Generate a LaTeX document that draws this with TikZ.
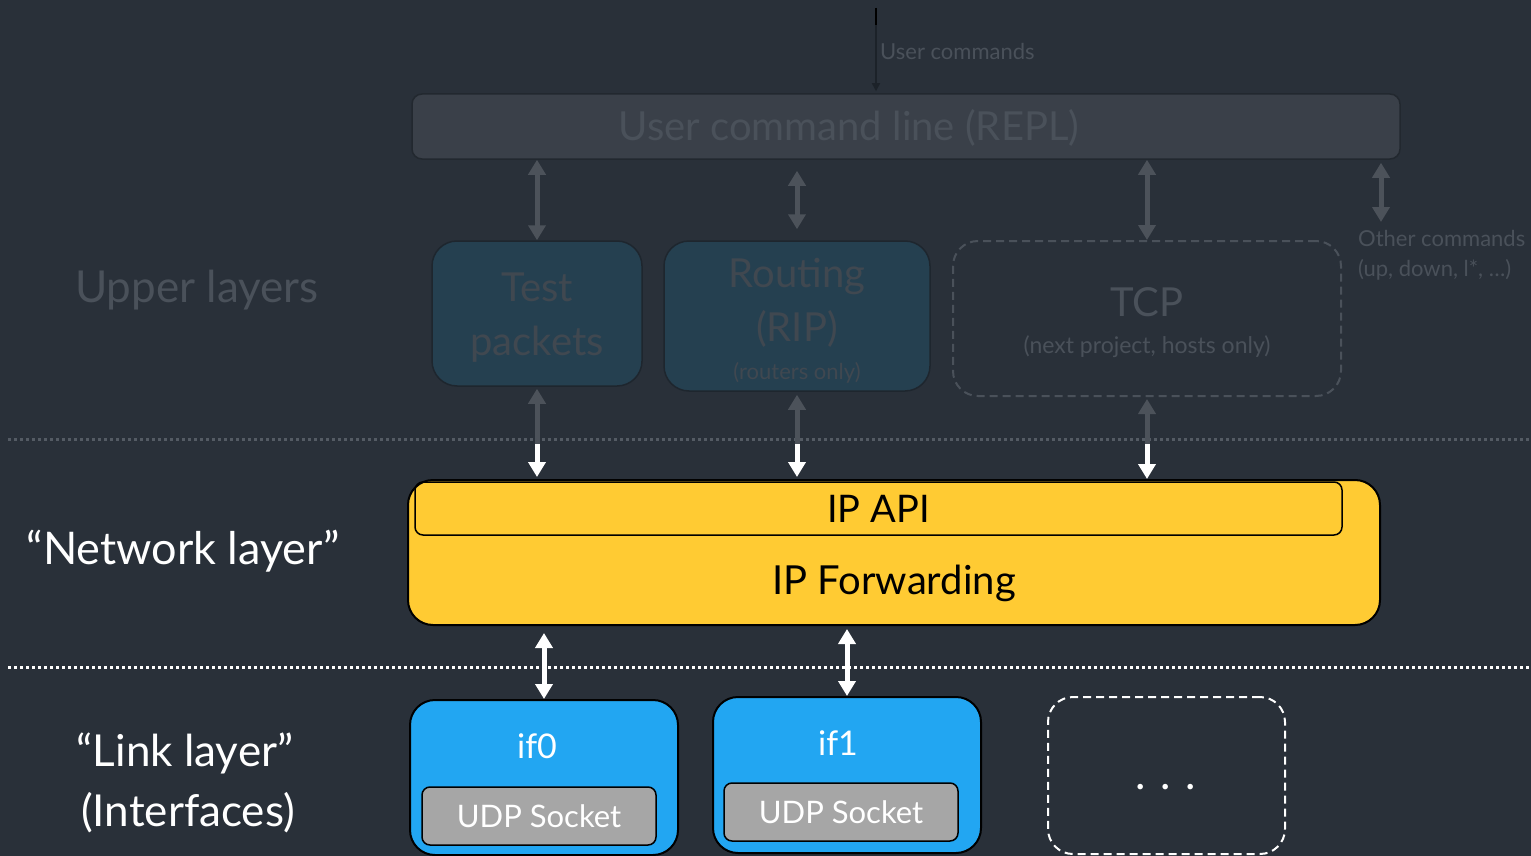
\documentclass[tikz,border=0pt]{standalone}
\usepackage{fontspec}
\setmainfont{Lato}
\usetikzlibrary{arrows.meta}

\definecolor{bg}{RGB}{41,48,57}
\definecolor{replfill}{RGB}{58,64,73}
\definecolor{repledge}{RGB}{34,40,47}
\definecolor{fainttext}{RGB}{74,81,90}
\definecolor{appfill}{RGB}{37,64,80}
\definecolor{appedge}{RGB}{30,38,46}
\definecolor{apptext}{RGB}{64,72,80}
\definecolor{fadegray}{RGB}{76,82,90}
\definecolor{dotgray}{RGB}{84,91,100}
\definecolor{cmdline}{RGB}{28,34,41}
\definecolor{ipyellow}{RGB}{255,203,51}
\definecolor{ifblue}{RGB}{34,166,242}
\definecolor{udpgray}{RGB}{166,166,166}

\newcommand{\fs}[1]{\fontsize{#1}{1.2\dimexpr#1pt\relax}\selectfont}

\tikzset{
  replbox/.style={draw=repledge, line width=1.5pt, fill=replfill, rounded corners=10pt, inner sep=0pt},
  appbox/.style={draw=appedge, line width=1.5pt, fill=appfill, rounded corners=25pt, inner sep=0pt},
  futurebox/.style={draw=fainttext, line width=2pt, dash pattern=on 8pt off 5pt, rounded corners=25pt, inner sep=0pt},
  ipbox/.style={draw=black, line width=2pt, fill=ipyellow, rounded corners=25pt, inner sep=0pt},
  apibox/.style={draw=black, line width=1.5pt, rounded corners=8pt, inner sep=0pt},
  ifbox/.style={draw=black, line width=2pt, fill=ifblue, rounded corners=25pt, inner sep=0pt},
  udpbox/.style={draw=black, line width=1.5pt, fill=udpgray, rounded corners=8pt, inner sep=0pt, text=white},
  morebox/.style={draw=white, line width=2pt, dash pattern=on 8pt off 5pt, rounded corners=25pt, inner sep=0pt},
  txt/.style={inner sep=0pt, anchor=base},
  tipA/.tip={Triangle[width=17pt,length=15pt]},
  fadearrow/.style={draw=fadegray, line width=5pt, tipA-tipA},
  fadeup/.style={draw=fadegray, line width=5pt, tipA-},
  whitedown/.style={draw=white, line width=5pt, -tipA},
  whitearrow/.style={draw=white, line width=5pt, tipA-tipA},
  cmdarrow/.style={draw=cmdline, line width=1.5pt, -{Triangle[width=8pt,length=8pt]}},
  dotline/.style={line width=3pt, dash pattern=on 3pt off 3pt},
}

\begin{document}
\begin{tikzpicture}[x=1pt,y=-1pt]
  \fill[bg] (0,0) rectangle (1531,856);
  \useasboundingbox (0,0) rectangle (1531,856);

  % layer separators
  \draw[dotline, dotgray] (8,439) -- (1531,439);
  \draw[dotline, white] (8,667) -- (1531,667);

  % layer labels
  \node[txt, text=fainttext, font=\fs{44}] (lupper) at (197,302) {Upper layers};
  \node[txt, text=white, font=\fs{45}] (lnet) at (183,564) {“Network layer”};
  \node[txt, text=white, font=\fs{44}] (llink) at (185,766) {“Link layer”};
  \node[txt, text=white, font=\fs{44}] (lif) at (188,826) {(Interfaces)};

  % command line
  \node[replbox, minimum width=988pt, minimum height=65pt] (repl) at (906,126.5) {};
  \node[txt, text=fainttext, font=\fs{40}] (repltext) at (849,140) {User command line (REPL)};

  \coordinate (uc) at (876,8);
  \draw[cmdarrow, shorten >=2pt] (uc) -- (uc |- repl.north);
  \draw[black, line width=2.5pt] (uc) -- ++(0,17);
  \node[txt, anchor=base west, text=fainttext, font=\fs{22}] (uctext) at (880,60) {User commands};

  % upper layer modules
  \node[appbox, minimum width=210pt, minimum height=145pt] (test) at (537,313.5) {};
  \node[txt, text=apptext, font=\fs{40}] (testa) at (537,301) {Test};
  \node[txt, text=apptext, font=\fs{40}] (testb) at (537,355) {packets};

  \node[appbox, minimum width=266pt, minimum height=150pt] (rip) at (797,316) {};
  \node[txt, text=apptext, font=\fs{40}] (ripa) at (797,287) {Routing};
  \node[txt, text=apptext, font=\fs{40}] (ripb) at (797,341) {(RIP)};
  \node[txt, text=apptext, font=\fs{22}] (ripc) at (797,379) {(routers only)};

  \node[futurebox, minimum width=388pt, minimum height=155pt] (tcp) at (1147,318.5) {};
  \node[txt, text=fainttext, font=\fs{40}] (tcpa) at (1147,316) {TCP};
  \node[txt, text=fainttext, font=\fs{23}] (tcpb) at (1147,353) {(next project, hosts only)};

  \node[txt, anchor=base west, text=fainttext, font=\fs{22}] (other) at (1358,246) {Other commands};
  \node[txt, anchor=base west, text=fainttext, font=\fs{22}] (otherb) at (1358,276) {(up, down, l*, \ldots)};
  \coordinate (oc) at (1381,222);

  % command line to modules
  \draw[fadearrow] (test.north |- repl.south) -- (test.north);
  \draw[fadearrow, shorten <=11pt, shorten >=11pt] (rip.north |- repl.south) -- (rip.north);
  \draw[fadearrow] (tcp.north |- repl.south) -- (tcp.north);
  \draw[fadearrow, shorten <=3pt] (oc |- repl.south) -- (oc);

  % network layer
  \node[ipbox, minimum width=972pt, minimum height=145pt] (ip) at (894,552.5) {};
  \node[apibox, minimum width=927pt, minimum height=53pt, font=\fs{38}] (api) at (878.5,508.5) {IP API};
  \node[txt, font=\fs{40}] (fwd) at (894,594) {IP Forwarding};

  % modules to network layer
  \coordinate (ts) at (537,444);
  \coordinate (rs) at (797,444);
  \coordinate (cs) at (1147,444);
  \draw[fadeup, shorten <=2pt] (test.south) -- (ts);
  \draw[whitedown, shorten >=2pt] (ts) -- (ts |- ip.north);
  \draw[fadeup, shorten <=3pt] (rip.south) -- (rs);
  \draw[whitedown, shorten >=2pt] (rs) -- (rs |- ip.north);
  \draw[fadeup, shorten <=2pt] (tcp.south) -- (cs);
  \draw[whitedown] (cs) -- (cs |- ip.north);

  % link layer
  \node[ifbox, minimum width=268pt, minimum height=155pt] (if0) at (544,777.5) {};
  \node[txt, text=white, font=\fs{34}] (if0t) at (537,758) {if0};
  \node[udpbox, minimum width=234pt, minimum height=58pt, font=\fs{31}] (udp0) at (539,816) {UDP Socket};

  \node[ifbox, minimum width=268pt, minimum height=156pt] (if1) at (847,775) {};
  \node[txt, text=white, font=\fs{34}] (if1t) at (838,755) {if1};
  \node[udpbox, minimum width=234pt, minimum height=58pt, font=\fs{31}] (udp1) at (841,812) {UDP Socket};

  \node[morebox, minimum width=237pt, minimum height=157pt] (more) at (1166.5,775.5) {};
  \node[txt, text=white, font=\fs{44}] (moret) at (1166,789) {.\,\,.\,\,.};

  % network layer to interfaces
  \draw[whitearrow, shorten <=7pt] (ip.south -| if0) -- (if0.north);
  \draw[whitearrow, shorten <=3pt] (ip.south -| if1) -- (if1.north);
\end{tikzpicture}
\end{document}
